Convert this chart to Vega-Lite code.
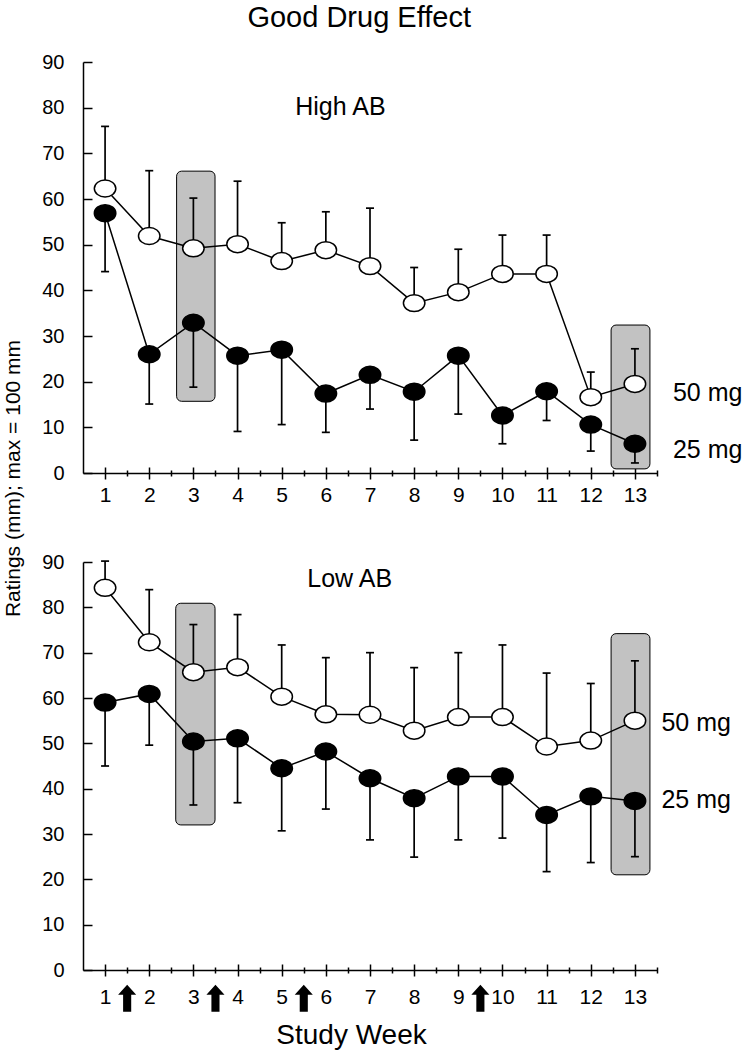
{
  "$schema": "https://vega.github.io/schema/vega-lite/v6.json",
  "padding": {"left": 2, "top": 4, "right": 5, "bottom": 5},
  "title": {"text": "Good Drug Effect", "fontSize": 29, "font": "Liberation Sans", "fontWeight": "normal", "color": "black", "anchor": "middle", "offset": 19, "dx": -13},
  "config": {"view": {"stroke": null}, "font": "Liberation Sans"},
  "bounds": "flush",
  "spacing": 89,
  "datasets": {
    "high": [
      {"week": 1, "dose": "50 mg", "mean": 62.3, "err": 75.9},
      {"week": 2, "dose": "50 mg", "mean": 51.9, "err": 66.2},
      {"week": 3, "dose": "50 mg", "mean": 49.2, "err": 60.2},
      {"week": 4, "dose": "50 mg", "mean": 50.1, "err": 63.9},
      {"week": 5, "dose": "50 mg", "mean": 46.4, "err": 54.8},
      {"week": 6, "dose": "50 mg", "mean": 48.8, "err": 57.2},
      {"week": 7, "dose": "50 mg", "mean": 45.3, "err": 58.0},
      {"week": 8, "dose": "50 mg", "mean": 37.2, "err": 45.0},
      {"week": 9, "dose": "50 mg", "mean": 39.6, "err": 49.0},
      {"week": 10, "dose": "50 mg", "mean": 43.6, "err": 52.1},
      {"week": 11, "dose": "50 mg", "mean": 43.6, "err": 52.1},
      {"week": 12, "dose": "50 mg", "mean": 16.6, "err": 22.1},
      {"week": 13, "dose": "50 mg", "mean": 19.5, "err": 27.2},
      {"week": 1, "dose": "25 mg", "mean": 56.9, "err": 44.1},
      {"week": 2, "dose": "25 mg", "mean": 26.0, "err": 15.1},
      {"week": 3, "dose": "25 mg", "mean": 32.9, "err": 18.8},
      {"week": 4, "dose": "25 mg", "mean": 25.7, "err": 9.1},
      {"week": 5, "dose": "25 mg", "mean": 27.0, "err": 10.6},
      {"week": 6, "dose": "25 mg", "mean": 17.4, "err": 8.9},
      {"week": 7, "dose": "25 mg", "mean": 21.5, "err": 14.0},
      {"week": 8, "dose": "25 mg", "mean": 17.8, "err": 7.2},
      {"week": 9, "dose": "25 mg", "mean": 25.7, "err": 12.9},
      {"week": 10, "dose": "25 mg", "mean": 12.6, "err": 6.4},
      {"week": 11, "dose": "25 mg", "mean": 17.9, "err": 11.5},
      {"week": 12, "dose": "25 mg", "mean": 10.6, "err": 4.8},
      {"week": 13, "dose": "25 mg", "mean": 6.4, "err": 2.2}
    ],
    "low": [
      {"week": 1, "dose": "50 mg", "mean": 84.3, "err": 90.2},
      {"week": 2, "dose": "50 mg", "mean": 72.3, "err": 83.9},
      {"week": 3, "dose": "50 mg", "mean": 65.7, "err": 76.2},
      {"week": 4, "dose": "50 mg", "mean": 66.8, "err": 78.4},
      {"week": 5, "dose": "50 mg", "mean": 60.3, "err": 71.7},
      {"week": 6, "dose": "50 mg", "mean": 56.4, "err": 68.9},
      {"week": 7, "dose": "50 mg", "mean": 56.3, "err": 70.0},
      {"week": 8, "dose": "50 mg", "mean": 52.8, "err": 66.7},
      {"week": 9, "dose": "50 mg", "mean": 55.8, "err": 70.0},
      {"week": 10, "dose": "50 mg", "mean": 55.8, "err": 71.7},
      {"week": 11, "dose": "50 mg", "mean": 49.3, "err": 65.5},
      {"week": 12, "dose": "50 mg", "mean": 50.6, "err": 63.2},
      {"week": 13, "dose": "50 mg", "mean": 55.0, "err": 68.2},
      {"week": 1, "dose": "25 mg", "mean": 59.0, "err": 45.0},
      {"week": 2, "dose": "25 mg", "mean": 60.9, "err": 49.6},
      {"week": 3, "dose": "25 mg", "mean": 50.4, "err": 36.4},
      {"week": 4, "dose": "25 mg", "mean": 51.1, "err": 36.9},
      {"week": 5, "dose": "25 mg", "mean": 44.5, "err": 30.7},
      {"week": 6, "dose": "25 mg", "mean": 48.2, "err": 35.5},
      {"week": 7, "dose": "25 mg", "mean": 42.3, "err": 28.7},
      {"week": 8, "dose": "25 mg", "mean": 37.9, "err": 24.9},
      {"week": 9, "dose": "25 mg", "mean": 42.7, "err": 28.7},
      {"week": 10, "dose": "25 mg", "mean": 42.7, "err": 29.1},
      {"week": 11, "dose": "25 mg", "mean": 34.2, "err": 21.7},
      {"week": 12, "dose": "25 mg", "mean": 38.3, "err": 23.7},
      {"week": 13, "dose": "25 mg", "mean": 37.3, "err": 25.0}
    ],
    "boxes_high": [
      {"start": 2.62, "end": 3.49, "lo": 15.7, "hi": 66.1},
      {"start": 12.46, "end": 13.34, "lo": 0.9, "hi": 32.4}
    ],
    "boxes_low": [
      {"start": 2.6, "end": 3.49, "lo": 32.0, "hi": 80.9},
      {"start": 12.46, "end": 13.34, "lo": 21.0, "hi": 74.2}
    ],
    "arrows": [{"week": 1.5}, {"week": 3.5}, {"week": 5.5}, {"week": 9.5}]
  },
  "vconcat": [
    {
      "width": 574,
      "height": 411,
      "resolve": {"axis": {"x": "independent", "y": "independent"}},
      "layer": [
        {
          "data": {"name": "boxes_high"},
          "mark": {"type": "rect", "fill": "#c2c2c2", "stroke": "black", "strokeWidth": 1, "cornerRadius": 5},
          "encoding": {
            "x": {"field": "start", "type": "quantitative", "scale": {"domain": [0.5, 13.5], "nice": false, "zero": false},
              "axis": {"orient": "bottom", "values": [1,2,3,4,5,6,7,8,9,10,11,12,13], "ticks": false, "domain": true, "domainColor": "black", "domainWidth": 1.5, "grid": false, "labelFont": "Liberation Sans", "labelFontSize": 21, "labelColor": "black", "labelPadding": 11, "labelBaseline": "top", "labelFlush": false, "title": null}},
            "x2": {"field": "end"},
            "y": {"field": "lo", "type": "quantitative", "scale": {"domain": [0, 90], "nice": false, "zero": true},
              "axis": {"orient": "left", "values": [0,10,20,30,40,50,60,70,80,90], "ticks": false, "domain": true, "domainColor": "black", "domainWidth": 1.5, "grid": false, "labelFont": "Liberation Sans", "labelFontSize": 20, "labelColor": "black", "labelPadding": 19, "labelFlush": false, "title": null}},
            "y2": {"field": "hi"}
          }
        },
        {
          "data": {"name": "high"},
          "mark": {"type": "line", "stroke": "black", "strokeWidth": 1.5},
          "encoding": {
            "x": {"field": "week", "type": "quantitative",
              "axis": {"orient": "bottom", "values": [1,2,3,4,5,6,7,8,9,10,11,12,13], "offset": -6, "tickSize": 12, "tickWidth": 1.5, "tickColor": "black", "domain": false, "labels": false, "grid": false, "title": null}},
            "y": {"field": "mean", "type": "quantitative",
              "axis": {"orient": "left", "values": [0,10,20,30,40,50,60,70,80,90], "offset": -9, "tickSize": 9, "tickWidth": 1.5, "tickColor": "black", "domain": false, "labels": false, "grid": false, "title": null}},
            "detail": {"field": "dose"}
          }
        },
        {
          "data": {"name": "high"},
          "mark": {"type": "rule", "stroke": "black", "strokeWidth": 1.7},
          "encoding": {
            "x": {"field": "week", "type": "quantitative",
              "axis": {"orient": "bottom", "values": [1.5,2.5,3.5,4.5,5.5,6.5,7.5,8.5,9.5,10.5,11.5,12.5,13.5], "offset": -3, "tickSize": 6, "tickWidth": 1.5, "tickColor": "black", "domain": false, "labels": false, "grid": false, "title": null}},
            "y": {"field": "mean", "type": "quantitative", "axis": null},
            "y2": {"field": "err"}
          }
        },
        {
          "data": {"name": "high"},
          "mark": {"type": "point", "shape": "stroke", "size": 64, "stroke": "black", "strokeWidth": 1.7, "opacity": 1},
          "encoding": {
            "x": {"field": "week", "type": "quantitative", "axis": null},
            "y": {"field": "err", "type": "quantitative", "axis": null}
          }
        },
        {
          "data": {"name": "high"},
          "mark": {"type": "point", "shape": "M-1,0A1,0.79 0 1,1 1,0A1,0.79 0 1,1 -1,0Z", "size": 462, "filled": true, "stroke": "black", "strokeWidth": 1.5, "opacity": 1},
          "encoding": {
            "x": {"field": "week", "type": "quantitative", "axis": null},
            "y": {"field": "mean", "type": "quantitative", "axis": null},
            "fill": {"field": "dose", "type": "nominal", "scale": {"domain": ["25 mg", "50 mg"], "range": ["black", "white"]}, "legend": null}
          }
        },
        {
          "data": {"values": [{}]},
          "mark": {"type": "text", "text": "High AB", "align": "center", "baseline": "middle", "fontSize": 25, "font": "Liberation Sans", "color": "black"},
          "encoding": {"x": {"datum": 6.33, "type": "quantitative", "axis": null}, "y": {"datum": 80.2, "type": "quantitative", "axis": null}}
        },
        {
          "data": {"values": [{}]},
          "mark": {"type": "text", "text": "50 mg", "align": "left", "baseline": "middle", "fontSize": 25, "font": "Liberation Sans", "color": "black"},
          "encoding": {"x": {"datum": 13.86, "type": "quantitative", "axis": null}, "y": {"datum": 17.6, "type": "quantitative", "axis": null}}
        },
        {
          "data": {"values": [{}]},
          "mark": {"type": "text", "text": "25 mg", "align": "left", "baseline": "middle", "fontSize": 25, "font": "Liberation Sans", "color": "black"},
          "encoding": {"x": {"datum": 13.86, "type": "quantitative", "axis": null}, "y": {"datum": 5.1, "type": "quantitative", "axis": null}}
        }
      ]
    },
    {
      "width": 574,
      "height": 408,
      "resolve": {"axis": {"x": "independent", "y": "independent"}},
      "layer": [
        {
          "data": {"name": "boxes_low"},
          "mark": {"type": "rect", "fill": "#c2c2c2", "stroke": "black", "strokeWidth": 1, "cornerRadius": 5},
          "encoding": {
            "x": {"field": "start", "type": "quantitative", "scale": {"domain": [0.5, 13.5], "nice": false, "zero": false},
              "axis": {"orient": "bottom", "values": [1,2,3,4,5,6,7,8,9,10,11,12,13], "ticks": false, "domain": true, "domainColor": "black", "domainWidth": 1.5, "grid": false, "labelFont": "Liberation Sans", "labelFontSize": 21, "labelColor": "black", "labelPadding": 16, "labelBaseline": "top", "labelFlush": false,
                "title": "Study Week", "titleFont": "Liberation Sans", "titleFontSize": 28, "titleFontWeight": "normal", "titleColor": "black", "titleX": 268, "titleY": 73, "titleAlign": "center", "titleBaseline": "alphabetic"}},
            "x2": {"field": "end"},
            "y": {"field": "lo", "type": "quantitative", "scale": {"domain": [0, 90], "nice": false, "zero": true},
              "axis": {"orient": "left", "values": [0,10,20,30,40,50,60,70,80,90], "ticks": false, "domain": true, "domainColor": "black", "domainWidth": 1.5, "grid": false, "labelFont": "Liberation Sans", "labelFontSize": 20, "labelColor": "black", "labelPadding": 19, "labelFlush": false,
                "title": "Ratings (mm); max = 100 mm", "titleFont": "Liberation Sans", "titleFontSize": 21, "titleFontWeight": "normal", "titleColor": "black", "titleAngle": -90, "titleX": -64, "titleY": -84, "titleAlign": "center", "titleBaseline": "alphabetic"}},
            "y2": {"field": "hi"}
          }
        },
        {
          "data": {"name": "low"},
          "mark": {"type": "line", "stroke": "black", "strokeWidth": 1.5},
          "encoding": {
            "x": {"field": "week", "type": "quantitative",
              "axis": {"orient": "bottom", "values": [1,2,3,4,5,6,7,8,9,10,11,12,13], "offset": -6, "tickSize": 12, "tickWidth": 1.5, "tickColor": "black", "domain": false, "labels": false, "grid": false, "title": null}},
            "y": {"field": "mean", "type": "quantitative",
              "axis": {"orient": "left", "values": [0,10,20,30,40,50,60,70,80,90], "offset": -9, "tickSize": 9, "tickWidth": 1.5, "tickColor": "black", "domain": false, "labels": false, "grid": false, "title": null}},
            "detail": {"field": "dose"}
          }
        },
        {
          "data": {"name": "low"},
          "mark": {"type": "rule", "stroke": "black", "strokeWidth": 1.7},
          "encoding": {
            "x": {"field": "week", "type": "quantitative",
              "axis": {"orient": "bottom", "values": [1.5,2.5,3.5,4.5,5.5,6.5,7.5,8.5,9.5,10.5,11.5,12.5,13.5], "offset": -3, "tickSize": 6, "tickWidth": 1.5, "tickColor": "black", "domain": false, "labels": false, "grid": false, "title": null}},
            "y": {"field": "mean", "type": "quantitative", "axis": null},
            "y2": {"field": "err"}
          }
        },
        {
          "data": {"name": "low"},
          "mark": {"type": "point", "shape": "stroke", "size": 64, "stroke": "black", "strokeWidth": 1.7, "opacity": 1},
          "encoding": {
            "x": {"field": "week", "type": "quantitative", "axis": null},
            "y": {"field": "err", "type": "quantitative", "axis": null}
          }
        },
        {
          "data": {"name": "low"},
          "mark": {"type": "point", "shape": "M-1,0A1,0.79 0 1,1 1,0A1,0.79 0 1,1 -1,0Z", "size": 462, "filled": true, "stroke": "black", "strokeWidth": 1.5, "opacity": 1},
          "encoding": {
            "x": {"field": "week", "type": "quantitative", "axis": null},
            "y": {"field": "mean", "type": "quantitative", "axis": null},
            "fill": {"field": "dose", "type": "nominal", "scale": {"domain": ["25 mg", "50 mg"], "range": ["black", "white"]}, "legend": null}
          }
        },
        {
          "data": {"name": "arrows"},
          "mark": {"type": "point", "shape": "M0,-1L0.67,-0.26L0.3,-0.26L0.3,1L-0.3,1L-0.3,-0.26L-0.67,-0.26Z", "size": 729, "filled": true, "fill": "black", "strokeWidth": 0, "opacity": 1},
          "encoding": {
            "x": {"field": "week", "type": "quantitative", "axis": null},
            "y": {"datum": -6.25, "type": "quantitative", "axis": null}
          }
        },
        {
          "data": {"values": [{}]},
          "mark": {"type": "text", "text": "Low AB", "align": "center", "baseline": "middle", "fontSize": 25, "font": "Liberation Sans", "color": "black"},
          "encoding": {"x": {"datum": 6.54, "type": "quantitative", "axis": null}, "y": {"datum": 86.3, "type": "quantitative", "axis": null}}
        },
        {
          "data": {"values": [{}]},
          "mark": {"type": "text", "text": "50 mg", "align": "left", "baseline": "middle", "fontSize": 25, "font": "Liberation Sans", "color": "black"},
          "encoding": {"x": {"datum": 13.6, "type": "quantitative", "axis": null}, "y": {"datum": 54.5, "type": "quantitative", "axis": null}}
        },
        {
          "data": {"values": [{}]},
          "mark": {"type": "text", "text": "25 mg", "align": "left", "baseline": "middle", "fontSize": 25, "font": "Liberation Sans", "color": "black"},
          "encoding": {"x": {"datum": 13.6, "type": "quantitative", "axis": null}, "y": {"datum": 37.5, "type": "quantitative", "axis": null}}
        }
      ]
    }
  ]
}
